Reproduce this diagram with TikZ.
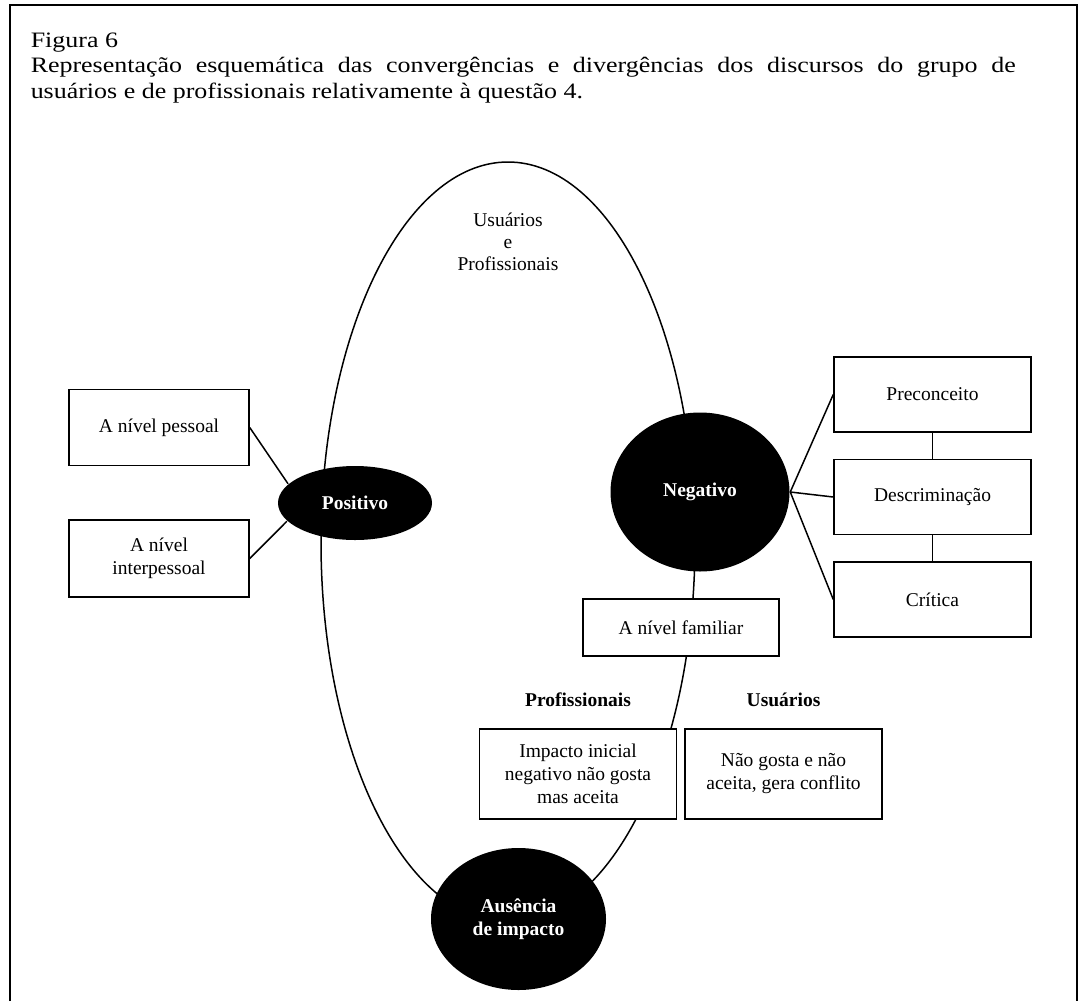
\documentclass[tikz,border=0pt]{standalone}
\usepackage{fontspec}
\setmainfont{Liberation Serif}
\newfontfamily\titlefont[FakeStretch=1.18]{Liberation Serif}
\usetikzlibrary{positioning,shapes.geometric}

\begin{document}
\begin{tikzpicture}[x=0.5pt,y=-0.5pt,line width=0.75pt,node distance=51.25pt,
  every node/.style={font=\fontsize{9.75}{11.5}\selectfont},
  box node/.style={draw,fill=white,minimum width=98.5pt,minimum height=37.5pt,align=center,inner sep=2pt},
  dark node/.style={ellipse,fill=black,text=white,align=center,inner sep=0pt,font=\fontsize{9.75}{11.5}\selectfont\bfseries},
  head node/.style={font=\fontsize{9.75}{11.5}\selectfont\bfseries}]

  \useasboundingbox (0,0) rectangle (1080,1001);
  \draw[line width=1pt] (10,1001) -- (10,5) -- (1077,5) -- (1077,1001);

  \node[anchor=north west,inner sep=0pt,text width=492.5pt,align=justify,font=\titlefont\fontsize{11}{12.75}\selectfont] (titulo) at (30,32)
    {Figura 6\\Representação esquemática das convergências e divergências dos discursos do grupo de\linebreak usuários e de profissionais relativamente à questão 4.};

  \node[draw,ellipse,minimum width=187pt,minimum height=380pt,inner sep=0pt] (grupo) at (508,542) {};
  \node[align=center,font=\fontsize{9.75}{11}\selectfont] (ambos) at (508,242) {Usuários\\e\\Profissionais};

  \node[box node,minimum width=90pt,minimum height=38pt] (pess) at (159,427.5) {A nível pessoal};
  \node[box node,minimum width=90pt,minimum height=38.5pt] (inter) at (159,558.5) {A nível\\interpessoal};
  \node[dark node,minimum width=77pt,minimum height=37pt] (pos) at (355,503) {Positivo};

  \node[dark node,minimum width=89.5pt,minimum height=79.5pt] (neg) at (700,492) {Negativo};
  \node[box node] (prec) at (932.5,394.5) {Preconceito};
  \node[box node] (desc) [below of=prec] {Descriminação};
  \node[box node] (crit) [below of=desc] {Crítica};

  \node[box node,minimum width=98pt,minimum height=28.5pt] (fam) at (681,627.5) {A nível familiar};
  \node[head node] (prof) at (578,700) {Profissionais};
  \node[head node] (usu) at (783.5,700) {Usuários};
  \node[box node,minimum height=45pt] (imp) at (578,774) {Impacto inicial\\negativo não gosta\\mas aceita};
  \node[box node,minimum height=45pt] (nao) at (783.5,774) {Não gosta e não\\aceita, gera conflito};
  \node[dark node,minimum width=87.5pt,minimum height=71pt] (aus) at (518.5,919) {Ausência\\de impacto};

  \path
    (pess.east) edge (pos.164)
    (inter.east) edge (pos.195)
    (neg.east) edge (prec.west)
    (neg.east) edge (desc.west)
    (neg.east) edge (crit.west)
    (prec.south) edge (desc.north)
    (desc.south) edge (crit.north);
\end{tikzpicture}
\end{document}
